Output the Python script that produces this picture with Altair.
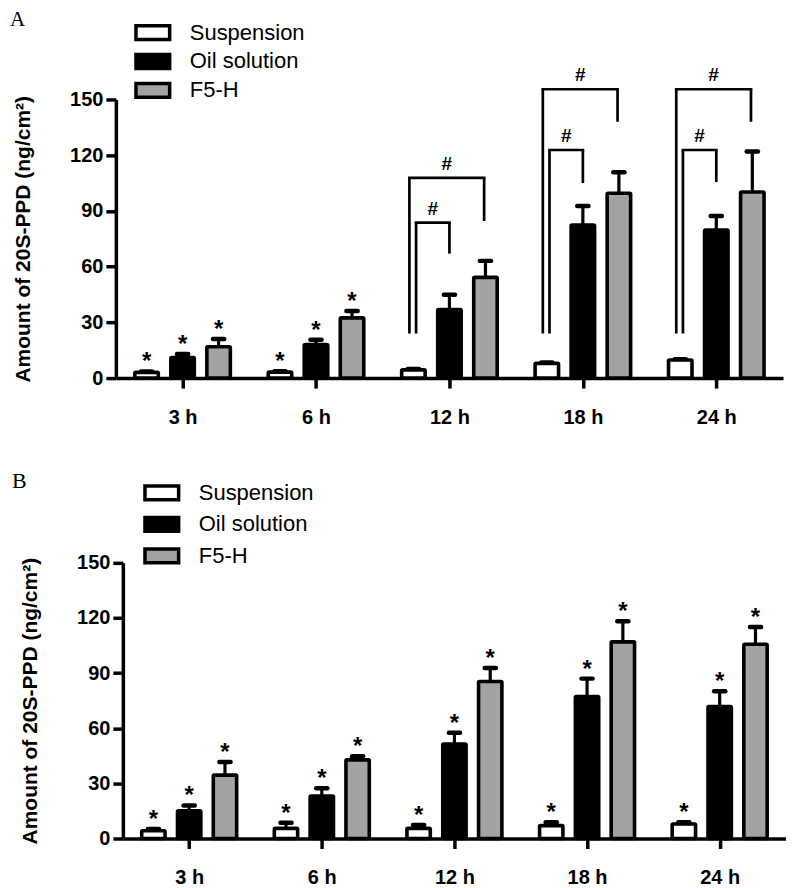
import altair as alt
import pandas as pd

# ---------------- data ----------------
times = ["3 h", "6 h", "12 h", "18 h", "24 h"]
series = ["Suspension", "Oil solution", "F5-H"]
fills = ["#ffffff", "#000000", "#a3a3a3"]

# Panel A (means and upper error)
a_susp = [3.1, 3.2, 4.4, 7.9, 9.7]
a_susp_err = [0.5, 0.5, 0.5, 0.5, 0.5]
a_oil = [11.0, 18.1, 36.9, 82.4, 79.7]
a_oil_err = [2.0, 2.5, 8.0, 10.2, 7.5]
a_f5 = [16.9, 32.4, 54.2, 99.5, 100.2]
a_f5_err = [4.1, 3.7, 8.9, 11.3, 21.8]
a_star_susp = [1, 1, 0, 0, 0]
a_star_oil = [1, 1, 0, 0, 0]
a_star_f5 = [1, 1, 0, 0, 0]

# Panel A significance brackets (#)
br_time = [2, 2, 3, 3, 4, 4]
br_kind = ["inner", "outer", "inner", "outer", "inner", "outer"]
br_top = [83.7, 107.8, 122.8, 155.5, 122.8, 155.5]
br_left_bottom = [24, 24, 24, 24, 24, 24]
br_right_bottom = [67.0, 84.6, 105.0, 138.0, 105.5, 138.0]

# Panel B
b_susp = [4.2, 5.5, 5.5, 7.0, 7.9]
b_susp_err = [1.0, 3.1, 1.8, 1.9, 1.0]
b_oil = [15.1, 23.1, 51.4, 77.2, 71.8]
b_oil_err = [2.9, 4.2, 6.1, 9.8, 8.3]
b_f5 = [34.5, 42.8, 85.4, 107.0, 105.7]
b_f5_err = [7.1, 2.0, 7.4, 11.2, 9.4]
b_star_susp = [1, 1, 1, 1, 1]
b_star_oil = [1, 1, 1, 1, 1]
b_star_f5 = [1, 1, 1, 1, 1]

y_ticks = [0, 30, 60, 90, 120, 150]

# ---------------- layout constants ----------------
OFF = [-0.27, 0.0, 0.27]     # series offset within a time group (x units)
HALF = 0.088                 # half bar width
CAP = 0.042                  # half cap width
BR_LEFT = {"inner": -0.25, "outer": -0.30}
BR_RIGHT = {"inner": 0.0, "outer": 0.26}

SANS = "Liberation Sans"
SERIF = "Liberation Serif"


def bars_df(means, errs, stars):
    rows = []
    for j, s in enumerate(series):
        for i, t in enumerate(times):
            xc = i + OFF[j]
            rows.append(dict(series=s, time=t, xc=xc, xl=xc - HALF, xr=xc + HALF,
                             cl=xc - CAP, cr=xc + CAP, mean=means[j][i],
                             top=means[j][i] + errs[j][i],
                             star="*" if stars[j][i] else ""))
    return pd.DataFrame(rows)


def brackets_df():
    rows = []
    for t, k, top, lb, rb in zip(br_time, br_kind, br_top, br_left_bottom, br_right_bottom):
        xl = t + BR_LEFT[k]
        xr = t + BR_RIGHT[k]
        rows.append(dict(xl=xl, xr=xr, xm=(xl + xr) / 2, top=top, lb=lb, rb=rb, lab="#"))
    return pd.DataFrame(rows)


def panel(df, letter, width, height, xrange, yoff, legend_x, legend_y, row_pad,
          letter_x, letter_y, letter_size, brackets=None):
    label_expr = "[" + ",".join("'%s'" % t for t in times) + "][datum.value]"
    xscale = alt.Scale(domain=[-0.5, 4.5], nice=False, zero=False, range=xrange)
    yscale = alt.Scale(domain=[0, 150], nice=False)
    xaxis = alt.Axis(values=[0, 1, 2, 3, 4], labelExpr=label_expr, title=None,
                     grid=False, domainColor="black", domainWidth=3.5, tickColor="black",
                     tickWidth=3.5, tickSize=10, labelFont=SANS, labelFontSize=20,
                     labelFontWeight="bold", labelColor="black", labelPadding=19)
    yaxis = alt.Axis(values=y_ticks, title="Amount of 20S-PPD (ng/cm²)", grid=False,
                     domainColor="black", domainWidth=3.5, tickColor="black", tickWidth=3.5,
                     tickSize=10, labelFont=SANS, labelFontSize=20, labelFontWeight="bold",
                     labelColor="black", labelPadding=3, titleFont=SANS, titleFontSize=21,
                     titleFontWeight="bold", titleColor="black", titlePadding=36,
                     offset=yoff)
    base = alt.Chart(df)
    err = base.mark_rule(color="black", strokeWidth=3.2).encode(
        x=alt.X("xc:Q", scale=xscale, axis=xaxis),
        y=alt.Y("mean:Q", scale=yscale, axis=yaxis),
        y2="top:Q")
    cap = base.mark_rule(color="black", strokeWidth=4.5, strokeCap="round").encode(
        x=alt.X("cl:Q", scale=xscale, axis=xaxis), x2="cr:Q",
        y=alt.Y("top:Q", scale=yscale, axis=yaxis))
    bars = base.mark_bar(stroke="black", strokeWidth=3.6, strokeJoin="round",
                         cornerRadius=1).encode(
        x=alt.X("xl:Q", scale=xscale, axis=xaxis), x2="xr:Q",
        y=alt.Y("mean:Q", scale=yscale, axis=yaxis), y2=alt.datum(0),
        fill=alt.Fill("series:N", scale=alt.Scale(domain=series, range=fills),
                      legend=alt.Legend(title=None, orient="none", legendX=legend_x,
                                        legendY=legend_y, direction="vertical",
                                        symbolType="M-2,-0.82H2V0.82H-2Z",
                                        symbolSize=284, symbolStrokeColor="black",
                                        symbolStrokeWidth=3.5, labelFont=SANS,
                                        labelFontSize=22, labelColor="black",
                                        labelOffset=26, rowPadding=row_pad, padding=0,
                                        labelLimit=300)))
    stars = base.transform_filter("datum.star != ''").mark_text(
        font=SANS, fontSize=24, fontWeight="bold", color="black",
        baseline="alphabetic", align="center", dy=-2).encode(
        x=alt.X("xc:Q", scale=xscale, axis=xaxis),
        y=alt.Y("top:Q", scale=yscale, axis=yaxis), text="star:N")
    letter_layer = alt.Chart(pd.DataFrame({"t": [letter]})).mark_text(
        font=SERIF, fontSize=letter_size, color="black", align="left",
        baseline="alphabetic").encode(x=alt.value(letter_x), y=alt.value(letter_y),
                                      text="t:N")
    layers = [err, cap, bars, stars]
    if brackets is not None:
        bb = alt.Chart(brackets)
        left_leg = bb.mark_rule(color="black", strokeWidth=2.7).encode(
            x=alt.X("xl:Q", scale=xscale, axis=xaxis),
            y=alt.Y("lb:Q", scale=yscale, axis=yaxis), y2="top:Q")
        top_bar = bb.mark_rule(color="black", strokeWidth=2.7, strokeCap="square").encode(
            x=alt.X("xl:Q", scale=xscale, axis=xaxis), x2="xr:Q",
            y=alt.Y("top:Q", scale=yscale, axis=yaxis))
        right_leg = bb.mark_rule(color="black", strokeWidth=2.7).encode(
            x=alt.X("xr:Q", scale=xscale, axis=xaxis),
            y=alt.Y("rb:Q", scale=yscale, axis=yaxis), y2="top:Q")
        hashes = bb.mark_text(font=SANS, fontSize=19, fontWeight="bold", color="black",
                              baseline="alphabetic", align="center", dy=-8).encode(
            x=alt.X("xm:Q", scale=xscale, axis=xaxis),
            y=alt.Y("top:Q", scale=yscale, axis=yaxis), text="lab:N")
        layers += [left_leg, top_bar, right_leg, hashes]
    layers.append(letter_layer)
    return alt.layer(*layers).properties(width=width, height=height)


dfa = bars_df([a_susp, a_oil, a_f5], [a_susp_err, a_oil_err, a_f5_err],
              [a_star_susp, a_star_oil, a_star_f5])
dfb = bars_df([b_susp, b_oil, b_f5], [b_susp_err, b_oil_err, b_f5_err],
              [b_star_susp, b_star_oil, b_star_f5])

pa = panel(dfa, "A", 668, 279, [0, 668], 0, 26, -78, 1, -106, -74, 21,
           brackets=brackets_df())
pb = panel(dfb, "B", 671, 276, [7, 671], -7, 35, -81, 3.5, -104, -75, 22)

chart = alt.vconcat(
    pa, pb, spacing=43,
    padding={"left": 2, "top": 0, "right": 0, "bottom": 0}
).resolve_scale(
    x="independent", y="independent", fill="independent"
).resolve_legend(fill="independent").configure(background="white").configure_view(
    stroke=None)

chart.save("out.html", embed_options={"renderer": "svg", "actions": False})
